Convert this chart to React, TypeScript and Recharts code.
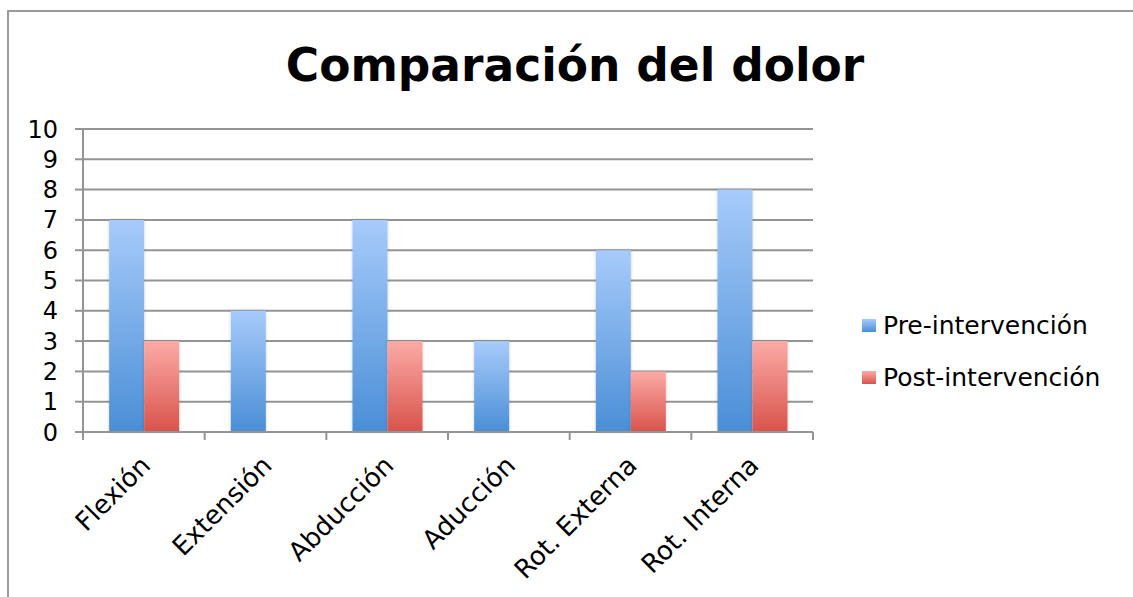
import { BarChart, Bar, XAxis, YAxis, CartesianGrid } from 'recharts'

const categories = ['Flexión', 'Extensión', 'Abducción', 'Aducción', 'Rot. Externa', 'Rot. Interna']
const preValues = [7, 4, 7, 3, 6, 8]
const postValues = [3, 0, 3, 0, 2, 3]
const yTicks = [0, 1, 2, 3, 4, 5, 6, 7, 8, 9, 10]
const seriesNames = ['Pre-intervención', 'Post-intervención']

const data = categories.map((name, i) => ({ name, pre: preValues[i], post: postValues[i] }))

const FONT = '"DejaVu Sans", Verdana, sans-serif'
const GRID = '#949494'
const PRE = ['#a7cbfb', '#4a8ed6']
const POST = ['#fcaaa6', '#d8534b']

// category label rotated -45, plus a tick mark at the band boundaries
// eslint-disable-next-line @typescript-eslint/no-explicit-any
function CategoryTick({ x, y, payload, index }: any) {
  const half = payload.offset ?? 0
  const last = index === categories.length - 1
  const tx = x + 8
  const ty = y + 27
  return (
    <g>
      <line x1={x - half} x2={x - half} y1={y - 8} y2={y} stroke={GRID} strokeWidth={2} />
      {last && <line x1={x + half} x2={x + half} y1={y - 8} y2={y} stroke={GRID} strokeWidth={2} />}
      <text
        x={tx}
        y={ty}
        textAnchor="end"
        transform={`rotate(-45 ${tx} ${ty})`}
        fontSize={26}
        fontFamily={FONT}
        fill="#000"
      >
        {payload.value}
      </text>
    </g>
  )
}

function LegendBox() {
  const grads = [PRE, POST]
  return (
    <div style={{ position: 'absolute', left: 861, top: 310, fontFamily: FONT, fontSize: 25, color: '#000' }}>
      {seriesNames.map((n, i) => (
        <div key={n} style={{ display: 'flex', alignItems: 'center', height: 30, marginBottom: 22 }}>
          <svg width={19} height={14} style={{ marginRight: 3 }}>
            <defs>
              <linearGradient id={`lg${i}`} x1="0" y1="0" x2="0" y2="1">
                <stop offset="0%" stopColor={grads[i][0]} />
                <stop offset="100%" stopColor={grads[i][1]} />
              </linearGradient>
            </defs>
            <rect x={1} y={1} width={14} height={13} fill={`url(#lg${i})`} />
          </svg>
          <span>{n}</span>
        </div>
      ))}
    </div>
  )
}

export default function App() {
  return (
    <div style={{ position: 'fixed', inset: 0, overflow: 'hidden', background: '#fff' }}>
      <div
        style={{
          position: 'absolute', left: 7, top: 10, width: 1200, height: 700,
          border: '2px solid #9a9a9a', boxSizing: 'border-box',
        }}
      />
      <div
        style={{
          position: 'absolute', left: 0, top: 39, width: 1150, textAlign: 'center',
          fontFamily: FONT, fontWeight: 'bold', fontSize: 45.5, color: '#000', lineHeight: '54px',
        }}
      >
        Comparación del dolor
      </div>
      <div style={{ position: 'absolute', left: 0, top: 0 }}>
        <BarChart
          width={1133}
          height={597}
          data={data}
          margin={{ top: 129, right: 320, left: 0, bottom: 35 }}
          barCategoryGap="21.5%"
          barGap={0}
        >
          <defs>
            <linearGradient id="preGrad" x1="0" y1="0" x2="0" y2="1">
              <stop offset="0%" stopColor={PRE[0]} />
              <stop offset="100%" stopColor={PRE[1]} />
            </linearGradient>
            <linearGradient id="postGrad" x1="0" y1="0" x2="0" y2="1">
              <stop offset="0%" stopColor={POST[0]} />
              <stop offset="100%" stopColor={POST[1]} />
            </linearGradient>
            <filter id="barShadow" x="-20%" y="-5%" width="140%" height="110%">
              <feDropShadow dx="0" dy="0" stdDeviation="1.5" floodColor="#000" floodOpacity="0.2" />
            </filter>
          </defs>
          <CartesianGrid vertical={false} stroke={GRID} strokeWidth={2} />
          <XAxis
            dataKey="name"
            height={130}
            axisLine={{ stroke: GRID, strokeWidth: 2 }}
            tickLine={false}
            tick={<CategoryTick />}
            interval={0}
          />
          <YAxis
            width={83}
            domain={[0, 10]}
            ticks={yTicks}
            interval={0}
            axisLine={{ stroke: GRID, strokeWidth: 2 }}
            tickLine={{ stroke: GRID, strokeWidth: 2 }}
            tickSize={8}
            tickMargin={17}
            tick={{ fontSize: 24, fontFamily: FONT, fill: '#000' }}
          />
          <Bar dataKey="pre" name={seriesNames[0]} fill="url(#preGrad)" filter="url(#barShadow)" isAnimationActive={false} />
          <Bar dataKey="post" name={seriesNames[1]} fill="url(#postGrad)" filter="url(#barShadow)" isAnimationActive={false} />
        </BarChart>
      </div>
      <LegendBox />
    </div>
  )
}
